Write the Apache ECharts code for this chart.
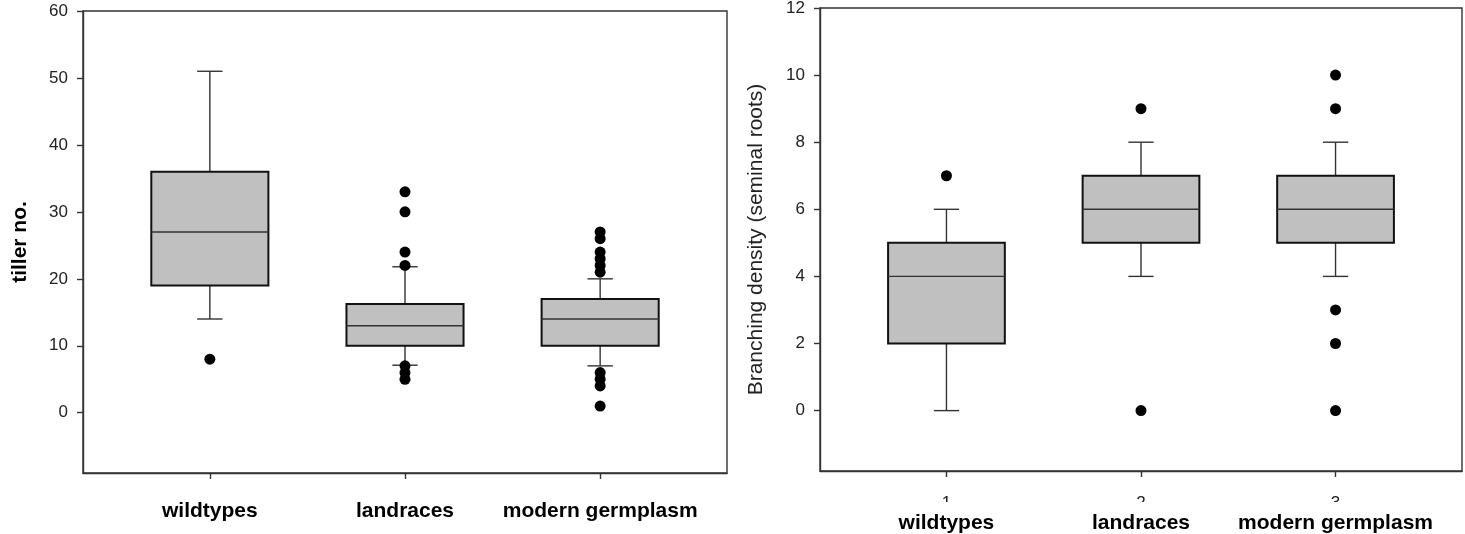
<!DOCTYPE html>
<html>
<head>
<meta charset="utf-8">
<script src="https://cdn.jsdelivr.net/npm/echarts@6/dist/echarts.min.js"></script>
<style>
html,body{margin:0;padding:0;background:#fff;}
#chart{width:1465px;height:534px;}
</style>
</head>
<body>
<div id="chart"></div>
<script>
// ---- data ----
const categories = ['wildtypes', 'landraces', 'modern germplasm'];
const xTickDigits = ['1', '2', '3'];
// [lower whisker, Q1, median, Q3, upper whisker]
const tillerBox = [
  [14, 19, 27, 36, 51],
  [7.1, 10, 13, 16.25, 21.8],
  [7, 10, 14, 17, 20]
];
const tillerOutliers = [
  [8],
  [33, 30, 24, 22, 7, 6, 5],
  [27, 26, 24, 23, 22, 21, 6, 5, 4, 1]
];
const branchBox = [
  [0, 2, 4, 5, 6],
  [4, 5, 6, 7, 8],
  [4, 5, 6, 7, 8]
];
const branchOutliers = [
  [7],
  [9, 0],
  [10, 9, 3, 2, 0]
];
const tillerTicks = [0, 10, 20, 30, 40, 50, 60];
const branchTicks = [0, 2, 4, 6, 8, 10, 12];
const categoryPositions = [1, 2, 3];

// ---- build ----
const FONT = "'Liberation Sans', Arial, Helvetica, sans-serif";
function boxData(box) {
  return box.map((b, i) => [categoryPositions[i]].concat(b));
}
function outlierData(out) {
  const res = [];
  out.forEach((arr, i) => arr.forEach(v => res.push([categoryPositions[i], v])));
  return res;
}
function renderBox(params, api) {
  const x = api.value(0);
  const lo = api.coord([x, api.value(1)]);
  const q1 = api.coord([x, api.value(2)]);
  const med = api.coord([x, api.value(3)]);
  const q3 = api.coord([x, api.value(4)]);
  const hi = api.coord([x, api.value(5)]);
  const bw = api.size([0.6, 0])[0];
  const cw = api.size([0.13, 0])[0];
  const cx = lo[0];
  const thin = { stroke: '#333', lineWidth: 1.4 };
  return {
    type: 'group',
    children: [
      { type: 'line', shape: { x1: cx, y1: q3[1], x2: cx, y2: hi[1] }, style: thin },
      { type: 'line', shape: { x1: cx, y1: q1[1], x2: cx, y2: lo[1] }, style: thin },
      { type: 'line', shape: { x1: cx - cw / 2, y1: hi[1], x2: cx + cw / 2, y2: hi[1] }, style: thin },
      { type: 'line', shape: { x1: cx - cw / 2, y1: lo[1], x2: cx + cw / 2, y2: lo[1] }, style: thin },
      { type: 'rect', shape: { x: cx - bw / 2, y: q3[1], width: bw, height: q1[1] - q3[1] },
        style: { fill: '#c0c0c0', stroke: '#111', lineWidth: 2 } },
      { type: 'line', shape: { x1: cx - bw / 2, y1: med[1], x2: cx + bw / 2, y2: med[1] }, style: thin }
    ]
  };
}

const axisLineStyle = { color: '#333', width: 1.4 };

const option = {
  animation: false,
  backgroundColor: '#fff',
  grid: [
    { left: 83, top: 11, width: 644, height: 462, show: true, borderColor: '#333', borderWidth: 1.4, outerBoundsMode: 'none' },
    { left: 820, top: 8, width: 642, height: 463, show: true, borderColor: '#333', borderWidth: 1.4, outerBoundsMode: 'none' }
  ],
  xAxis: [
    {
      gridIndex: 0, type: 'value', min: 0.35, max: 3.65,
      axisLine: { show: true, onZero: false, lineStyle: axisLineStyle },
      axisTick: { show: true, length: 6, lineStyle: axisLineStyle, customValues: categoryPositions },
      axisLabel: {
        customValues: categoryPositions, margin: 28,
        formatter: v => categories[Math.round(v) - 1],
        fontFamily: FONT, fontSize: 21, fontWeight: 'bold', color: '#000'
      },
      splitLine: { show: false }
    },
    {
      gridIndex: 1, type: 'value', min: 0.35, max: 3.65,
      axisLine: { show: true, onZero: false, lineStyle: axisLineStyle },
      axisTick: { show: true, length: 6, lineStyle: axisLineStyle, customValues: categoryPositions },
      axisLabel: {
        customValues: categoryPositions, margin: 23,
        formatter: v => '{d|' + xTickDigits[Math.round(v) - 1] + '}\n{c|' + categories[Math.round(v) - 1] + '}',
        rich: {
          d: { fontFamily: FONT, fontSize: 17, lineHeight: 18, color: '#222' },
          c: { fontFamily: FONT, fontSize: 21, lineHeight: 22, fontWeight: 'bold', color: '#000' }
        }
      },
      splitLine: { show: false }
    }
  ],
  yAxis: [
    {
      gridIndex: 0, type: 'value', min: -9, max: 60,
      name: 'tiller no.', nameLocation: 'middle', nameGap: 52,
      nameTextStyle: { fontFamily: FONT, fontSize: 21, fontWeight: 'bold', color: '#000' },
      axisLine: { show: true, onZero: false, lineStyle: axisLineStyle },
      axisTick: { show: true, length: 6, lineStyle: axisLineStyle, customValues: tillerTicks },
      axisLabel: { customValues: tillerTicks, margin: 15, fontFamily: FONT, fontSize: 17, color: '#222' },
      splitLine: { show: false }
    },
    {
      gridIndex: 1, type: 'value', min: -1.8, max: 12,
      name: 'Branching density (seminal roots)', nameLocation: 'middle', nameGap: 53,
      nameTextStyle: { fontFamily: FONT, fontSize: 21, color: '#222' },
      axisLine: { show: true, onZero: false, lineStyle: axisLineStyle },
      axisTick: { show: true, length: 6, lineStyle: axisLineStyle, customValues: branchTicks },
      axisLabel: { customValues: branchTicks, margin: 15, fontFamily: FONT, fontSize: 17, color: '#222' },
      splitLine: { show: false }
    }
  ],
  series: [
    { type: 'custom', xAxisIndex: 0, yAxisIndex: 0, renderItem: renderBox, data: boxData(tillerBox),
      encode: { x: 0, y: [1, 2, 3, 4, 5] } },
    { type: 'scatter', xAxisIndex: 0, yAxisIndex: 0, data: outlierData(tillerOutliers),
      symbolSize: 11, itemStyle: { color: '#000', opacity: 1 }, z: 5 },
    { type: 'custom', xAxisIndex: 1, yAxisIndex: 1, renderItem: renderBox, data: boxData(branchBox),
      encode: { x: 0, y: [1, 2, 3, 4, 5] } },
    { type: 'scatter', xAxisIndex: 1, yAxisIndex: 1, data: outlierData(branchOutliers),
      symbolSize: 11, itemStyle: { color: '#000', opacity: 1 }, z: 5 }
  ],
  graphic: [
    { type: 'rect', z: 100, shape: { x: 900, y: 502, width: 480, height: 12 }, style: { fill: '#fff' } }
  ]
};

const chart = echarts.init(document.getElementById('chart'), null, { renderer: 'canvas' });
chart.setOption(option);
</script>
</body>
</html>
